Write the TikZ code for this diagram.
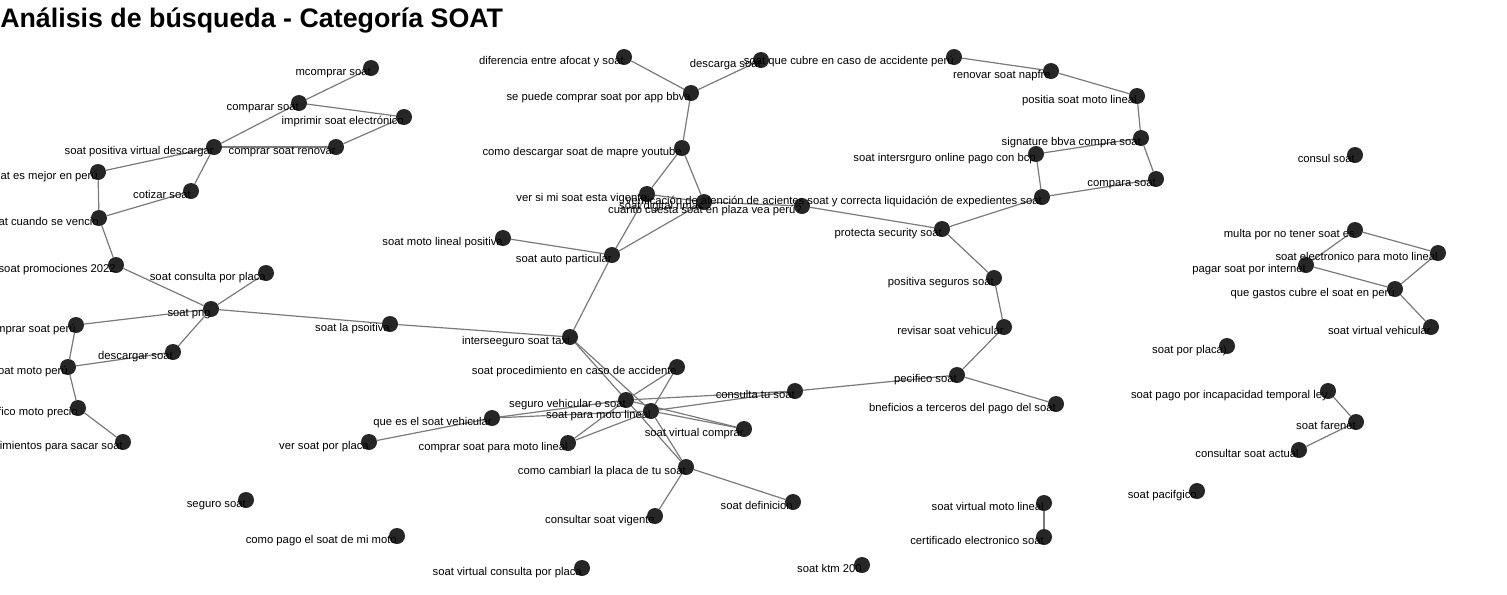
\documentclass[tikz,border=0pt]{standalone}
\usepackage{fontspec}
\setmainfont{Liberation Sans}
\usetikzlibrary{backgrounds}

\definecolor{dotgray}{HTML}{262626}
\definecolor{edgegray}{HTML}{7A7A7A}
\tikzset{
  kw/.style={circle, fill=dotgray, draw=none, minimum size=12pt, inner sep=0pt},
  kwtext/.style={anchor=base east, inner sep=0pt, text=black, font=\fontsize{8.45}{10}\selectfont},
  link/.style={draw=edgegray, line width=0.9pt},
}

\begin{document}
\begin{tikzpicture}[x=0.75pt,y=0.75pt,yscale=-1,xscale=1]
        \useasboundingbox (0,0) rectangle (1507,594);

        % Title
        \node [anchor=base west, inner sep=0pt, font=\bfseries\fontsize{20.1}{24}\selectfont] (title) at (0,27) {Análisis de búsqueda - Categoría SOAT};

        %Keyword nodes: left group
        \node [kw] (mcomprar) at (371,68) {};
        \node [kw] (comparar) at (299,103) {};
        \node [kw] (imprimir) at (404,117) {};
        \node [kw] (posvirtual) at (214,147) {};
        \node [kw] (renovar) at (336,147) {};
        \node [kw] (mejor) at (98,172) {};
        \node [kw] (cotizar) at (191,191) {};
        \node [kw] (vencio) at (99,218) {};
        \node [kw] (promo) at (116,265) {};
        \node [kw] (consplaca) at (266,273) {};
        \node [kw] (png) at (211,309) {};
        \node [kw] (comprarperu) at (76,325) {};
        \node [kw] (descargar) at (173,352) {};
        \node [kw] (motoperu) at (68,367) {};
        \node [kw] (motoprecio) at (78,408) {};
        \node [kw] (sacar) at (123,442) {};
        \node [kw] (psoitiva) at (390,324) {};
        \node [kw] (seguro) at (246,500) {};
        \node [kw] (pagomoto) at (397,536) {};
        \node [kw] (virtplaca) at (582,568) {};

        %Keyword nodes: centre group
        \node [kw] (afocat) at (624,57) {};
        \node [kw] (descarga) at (761,60) {};
        \node [kw] (bbva) at (691,93) {};
        \node [kw] (mapre) at (682,148) {};
        \node [kw] (vigente) at (647,194) {};
        \node [kw] (rimac) at (704,202) {};
        \node [kw] (plazavea) at (802,206) {};
        \node [kw] (autopart) at (612,255) {};
        \node [kw] (motopos) at (503,238) {};
        \node [kw] (taxi) at (570,337) {};
        \node [kw] (procedimiento) at (677,367) {};
        \node [kw] (vehicularo) at (626,400) {};
        \node [kw] (motolineal) at (651,411) {};
        \node [kw] (quees) at (492,418) {};
        \node [kw] (verplaca) at (369,442) {};
        \node [kw] (comprarmoto) at (568,443) {};
        \node [kw] (virtcomprar) at (744,429) {};
        \node [kw] (consultatu) at (795,391) {};
        \node [kw] (cambiar) at (686,467) {};
        \node [kw] (consvigente) at (655,516) {};
        \node [kw] (definicion) at (793,502) {};
        \node [kw] (ktm) at (862,565) {};

        %Keyword nodes: right group
        \node [kw] (cubre) at (954,57) {};
        \node [kw] (napfre) at (1051,71) {};
        \node [kw] (positia) at (1137,96) {};
        \node [kw] (signature) at (1141,138) {};
        \node [kw] (bcp) at (1036,154) {};
        \node [kw] (compara) at (1156,179) {};
        \node [kw] (verificacion) at (1042,197) {};
        \node [kw] (protecta) at (942,229) {};
        \node [kw] (posseguros) at (994,278) {};
        \node [kw] (revisar) at (1004,327) {};
        \node [kw] (pecifico) at (957,375) {};
        \node [kw] (bneficios) at (1056,404) {};
        \node [kw] (virtmoto) at (1044,503) {};
        \node [kw] (certificado) at (1044,537) {};
        \node [kw] (pacifgico) at (1197,491) {};
        \node [kw] (porplaca) at (1227,346) {};
        \node [kw] (incapacidad) at (1328,391) {};
        \node [kw] (farenet) at (1356,422) {};
        \node [kw] (actual) at (1299,450) {};
        \node [kw] (consul) at (1355,155) {};
        \node [kw] (multa) at (1355,230) {};
        \node [kw] (electronico) at (1438,253) {};
        \node [kw] (internet) at (1306,265) {};
        \node [kw] (gastos) at (1395,289) {};
        \node [kw] (virtvehicular) at (1431,327) {};

        %Links
        \begin{scope}[on background layer]
        \foreach \a/\b in {mcomprar/comparar, comparar/imprimir, comparar/posvirtual, imprimir/renovar,
            renovar/posvirtual, posvirtual/mejor, posvirtual/cotizar, cotizar/vencio, mejor/vencio,
            vencio/promo, promo/png, consplaca/png, png/comprarperu, png/descargar, png/psoitiva,
            comprarperu/motoperu, descargar/motoperu, motoperu/motoprecio, motoprecio/sacar, psoitiva/taxi,
            afocat/bbva, descarga/bbva, bbva/mapre, mapre/vigente, mapre/rimac, vigente/rimac,
            rimac/plazavea, plazavea/protecta, vigente/autopart, rimac/autopart, autopart/motopos, autopart/taxi,
            taxi/cambiar, taxi/motolineal, procedimiento/vehicularo, procedimiento/motolineal,
            consultatu/vehicularo, consultatu/motolineal, quees/vehicularo, quees/motolineal,
            comprarmoto/vehicularo, comprarmoto/motolineal, virtcomprar/vehicularo, virtcomprar/motolineal,
            motolineal/cambiar, quees/verplaca, consultatu/pecifico, cambiar/consvigente, cambiar/definicion,
            cubre/napfre, napfre/positia, positia/signature, signature/bcp, signature/compara,
            bcp/verificacion, compara/verificacion, verificacion/protecta, protecta/posseguros,
            posseguros/revisar, revisar/pecifico, pecifico/bneficios,
            multa/electronico, multa/internet, internet/gastos, electronico/gastos, gastos/virtvehicular,
            incapacidad/farenet, farenet/actual, virtmoto/certificado}
            \draw [link] (\a) -- (\b);
        \end{scope}

        % Text Nodes
        \foreach \n/\t in {mcomprar/{mcomprar soat}, comparar/{comparar soat}, imprimir/{imprimir soat electrónico},
            posvirtual/{soat positiva virtual descargar}, renovar/{comprar soat renovar}, mejor/{at es mejor en perú},
            cotizar/{cotizar soat}, vencio/{at cuando se vencio}, promo/{soat promociones 2022},
            consplaca/{soat consulta por placa}, png/{soat png}, comprarperu/{mprar soat perú},
            descargar/{descargar soat}, motoperu/{soat moto perú}, motoprecio/{fico moto precio},
            sacar/{imientos para sacar soat}, psoitiva/{soat la psoitiva}, seguro/{seguro soat},
            pagomoto/{como pago el soat de mi moto}, virtplaca/{soat virtual consulta por placa},
            afocat/{diferencia entre afocat y soat}, descarga/{descarga soat}, bbva/{se puede comprar soat por app bbva},
            mapre/{como descargar soat de mapre youtube}, vigente/{ver si mi soat esta vigente},
            rimac/{soat digital rimac}, plazavea/{cuanto cuesta soat en plaza vea perú?},
            autopart/{soat auto particular}, motopos/{soat moto lineal positiva}, taxi/{interseeguro soat taxi},
            procedimiento/{soat procedimiento en caso de accidente}, vehicularo/{seguro vehicular o soat},
            motolineal/{soat para moto lineal}, quees/{que es el soat vehicular}, verplaca/{ver soat por placa},
            comprarmoto/{comprar soat para moto lineal}, virtcomprar/{soat virtual comprar},
            consultatu/{consulta tu soat}, cambiar/{como cambiarl la placa de tu soat},
            consvigente/{consultar soat vigente}, definicion/{soat definicion}, ktm/{soat ktm 200},
            cubre/{soat que cubre en caso de accidente perú}, napfre/{renovar soat napfre},
            positia/{positia soat moto lineal}, signature/{signature bbva compra soat},
            bcp/{soat intersrguro online pago con bcp}, compara/{compara soat},
            verificacion/{verificación de atención de acientes soat y correcta liquidación de expedientes soat},
            protecta/{protecta security soat}, posseguros/{positiva seguros soat}, revisar/{revisar soat vehicular},
            pecifico/{pecifico soat}, bneficios/{bneficios a terceros del pago del soat},
            virtmoto/{soat virtual moto lineal}, certificado/{certificado electronico soat},
            pacifgico/{soat pacifgico}, porplaca/{soat por placa)}, incapacidad/{soat pago por incapacidad temporal ley},
            farenet/{soat farenet}, actual/{consultar soat actual}, consul/{consul soat},
            multa/{multa por no tener soat es}, electronico/{soat electronico para moto lineal},
            internet/{pagar soat por internet}, gastos/{que gastos cubre el soat en perú},
            virtvehicular/{soat virtual vehicular}}
            \node [kwtext] (\n-text) at ([yshift=5.6pt]\n.center) {\t};
\end{tikzpicture}
\end{document}
